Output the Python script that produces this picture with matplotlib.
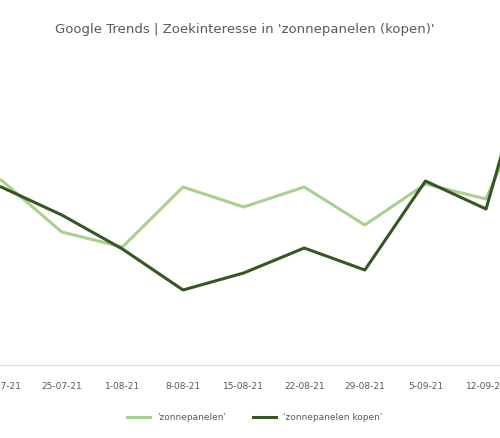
import matplotlib.pyplot as plt

dates = ["18-07-21", "25-07-21", "1-08-21", "8-08-21", "15-08-21",
         "22-08-21", "29-08-21", "5-09-21", "12-09-21", "19-09-21"]
zonnepanelen = [185, 133, 118, 178, 158, 178, 140, 181, 166, 304]
zonnepanelen_kopen = [178, 150, 116, 75, 92, 117, 95, 184, 156, 369]

fig = plt.figure(figsize=(5.0, 4.38), dpi=100)
ax = fig.add_axes([0.0, 73 / 438, 1.0, 325 / 438])
x = range(len(dates))
ax.plot(x, zonnepanelen, color="#a9d18e", linewidth=2.2, label="'zonnepanelen'")
ax.plot(x, zonnepanelen_kopen, color="#375623", linewidth=2.2, label="'zonnepanelen kopen'")
ax.set_xlim(-0.02, 8.23)
ax.set_ylim(0, 325)
ax.set_xticks(list(x)[:-1])
ax.set_xticklabels(dates[:-1], fontsize=6.5, color="#595959")
ax.tick_params(axis="x", length=0, pad=12)
ax.set_yticks([])
for s in ("top", "left", "right"):
    ax.spines[s].set_visible(False)
ax.spines["bottom"].set_color("#d9d9d9")
fig.text(0.49, 1 - 30 / 438, "Google Trends | Zoekinteresse in 'zonnepanelen (kopen)'",
         ha="center", va="center", fontsize=9.5, color="#595959")
fig.legend(loc="center", bbox_to_anchor=(0.51, 1 - 418 / 438), ncol=2, frameon=False,
           fontsize=6.5, labelcolor="#595959", handlelength=2.5, columnspacing=3)
fig.savefig("out.png", dpi=100)
